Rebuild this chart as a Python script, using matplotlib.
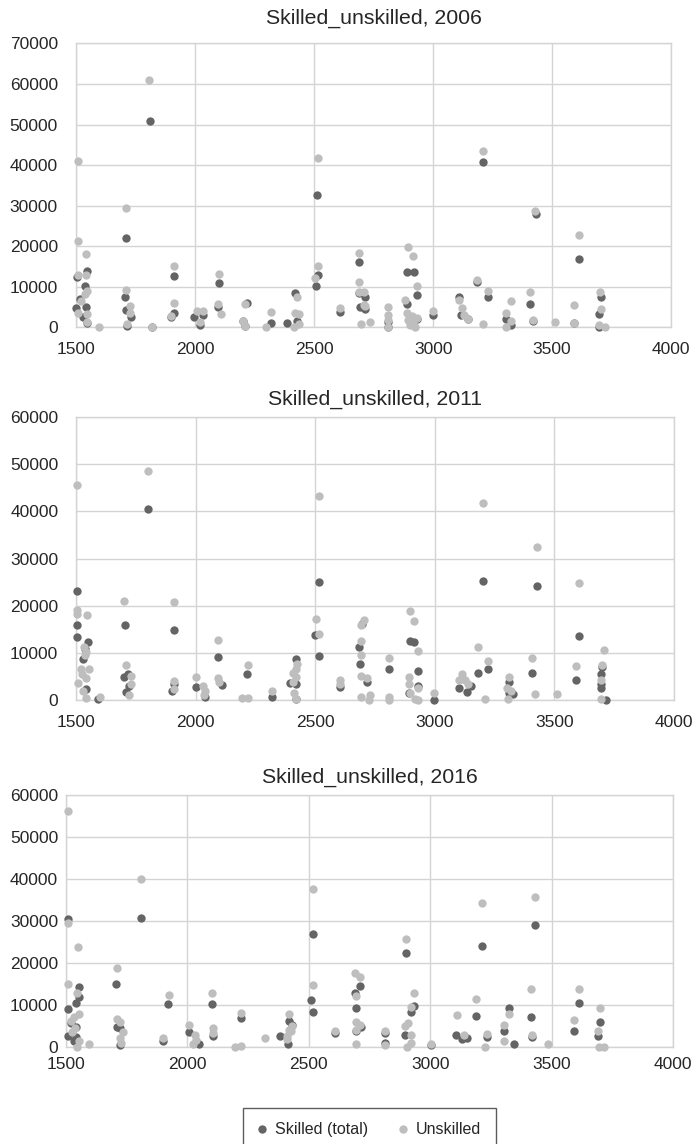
"""Skilled vs unskilled scatter, three census years (2006, 2011, 2016).

Three stacked panels sharing the same x range, one shared legend at the bottom.
"""
import matplotlib
matplotlib.use("Agg")
import matplotlib.pyplot as plt
from matplotlib.lines import Line2D

# --------------------------------------------------------------------------- #
# Data, (code, count) pairs
# --------------------------------------------------------------------------- #
years = [2006, 2011, 2016]
series_labels = ["Skilled (total)", "Unskilled"]

skilled_2006 = [
    (1505, 12300), (1547, 13900), (1538, 10250), (1542, 4900), (1500, 4750),
    (1517, 7000), (1530, 2600), (1545, 1000),
    (1710, 22000), (1707, 7550), (1710, 4200), (1730, 2600), (1715, 300),
    (1811, 50900), (1820, 0),
    (1913, 12640), (1911, 3400), (1900, 2400),
    (1997, 2450), (2032, 3000), (2020, 600),
    (2100, 11000), (2096, 4900),
    (2220, 6050), (2200, 1600), (2210, 300),
    (2320, 1100),
    (2420, 8400), (2385, 1000), (2430, 1500),
    (2511, 32700), (2518, 12800), (2508, 10200),
    (2609, 3800),
    (2690, 16200), (2690, 8400), (2714, 7500), (2693, 5000), (2716, 4400),
    (2812, 1400), (2812, 0),
    (2890, 13700), (2920, 13700), (2890, 5600), (2931, 8000), (2931, 2000),
    (3001, 3000),
    (3110, 7500), (3118, 2900), (3146, 2000),
    (3186, 11200), (3209, 40800), (3231, 7500),
    (3305, 2000), (3328, 600),
    (3408, 5700), (3433, 27900), (3420, 1600),
    (3611, 16900), (3590, 1100),
    (3704, 7500), (3695, 3300), (3695, 0),
]
unskilled_2006 = [
    (1507, 41000), (1507, 21300), (1542, 18000), (1507, 12900), (1542, 12900),
    (1547, 9000), (1538, 8100), (1521, 6500), (1510, 3600), (1547, 3300),
    (1547, 1400), (1598, 0),
    (1710, 29500), (1710, 9200), (1727, 5300), (1727, 3400), (1715, 800),
    (1807, 61000), (1820, 100),
    (1913, 15200), (1913, 5900), (1900, 2800),
    (2008, 4100), (2032, 4100), (2020, 1400),
    (2100, 13200), (2098, 5700), (2108, 3200),
    (2208, 5700), (2200, 1600), (2210, 300),
    (2300, 0), (2320, 3700),
    (2420, 3600), (2437, 3300), (2427, 7400), (2416, 0), (2437, 800),
    (2518, 41700), (2518, 15200), (2505, 12100),
    (2609, 4700),
    (2690, 18200), (2690, 11100), (2690, 8800), (2710, 8800), (2710, 5500),
    (2716, 5300), (2696, 800), (2735, 1400),
    (2812, 5000), (2812, 3000), (2812, 1700), (2812, 0),
    (2895, 19850), (2917, 17600), (2933, 10200), (2883, 6700), (2890, 3400),
    (2912, 2800), (2895, 1700), (2917, 1400), (2933, 2200), (2905, 600),
    (2925, 0),
    (3001, 4100),
    (3110, 6700), (3120, 4700), (3128, 2900), (3146, 2000),
    (3186, 11600), (3209, 43500), (3209, 900), (3231, 8900),
    (3326, 6500), (3305, 3400), (3328, 1600), (3305, 100),
    (3408, 8800), (3426, 28700), (3420, 1700),
    (3513, 1400),
    (3611, 22700), (3590, 5500), (3590, 1000),
    (3699, 8600), (3704, 4500), (3695, 600), (3720, 0),
]

skilled_2011 = [
    (1502, 23100), (1502, 16000), (1502, 13300), (1548, 12350), (1536, 10900),
    (1530, 8700), (1542, 2300), (1592, 300),
    (1704, 15900), (1715, 5500), (1700, 4900), (1720, 2900), (1710, 1700),
    (1800, 40400),
    (1910, 14800), (1910, 3400), (1900, 1900),
    (2001, 2700), (2040, 600),
    (2095, 9200), (2110, 3200),
    (2213, 5500),
    (2320, 600),
    (2420, 8800), (2420, 3400), (2395, 3700), (2420, 300),
    (2515, 25100), (2500, 13800), (2515, 9400),
    (2602, 2700),
    (2695, 16200), (2685, 11200), (2688, 7600), (2715, 3900),
    (2807, 6700),
    (2895, 12600), (2915, 12400), (2928, 6200), (2928, 2900), (2893, 1500),
    (2998, 100),
    (3103, 2600), (3135, 1700), (3150, 3000), (3183, 5800), (3225, 6600),
    (3204, 25200),
    (3310, 3900), (3310, 1500), (3328, 1400),
    (3407, 5800), (3428, 24100),
    (3605, 13500), (3590, 4200),
    (3700, 7000), (3695, 5600), (3695, 3500), (3695, 2500), (3715, 0),
]
unskilled_2011 = [
    (1502, 45500), (1502, 19200), (1502, 18200), (1543, 18100), (1532, 11300),
    (1542, 10200), (1538, 9500), (1555, 6600), (1520, 6600), (1522, 5600),
    (1508, 3700), (1542, 4600), (1530, 2000), (1542, 400), (1598, 700),
    (1700, 21100), (1710, 7400), (1727, 5100), (1727, 3500), (1720, 1100),
    (1800, 48600),
    (1910, 20700), (1910, 4000), (1907, 2300),
    (2000, 4800), (2030, 3000), (2040, 2000), (2035, 1100),
    (2095, 12700), (2095, 4600), (2098, 3900),
    (2220, 7400), (2195, 400), (2220, 400),
    (2320, 1900),
    (2405, 5800), (2420, 6700), (2425, 7700), (2420, 4900), (2405, 3900),
    (2410, 1500), (2420, 300),
    (2514, 43300), (2505, 17200), (2515, 14000),
    (2602, 4200), (2602, 3500),
    (2690, 16000), (2705, 17000), (2690, 12500), (2690, 9500), (2692, 5100),
    (2718, 4700), (2693, 700), (2730, 1100), (2725, 0),
    (2807, 9000), (2807, 700), (2807, 0),
    (2895, 18800), (2915, 16700), (2928, 10500), (2893, 4800), (2893, 3400),
    (2895, 1600), (2928, 2500), (2917, 300), (2932, 100),
    (2998, 1600),
    (3103, 4200), (3115, 5600), (3125, 4200), (3140, 3500), (3183, 11200),
    (3204, 41700), (3210, 300), (3225, 8300),
    (3310, 4800), (3302, 2500), (3320, 2000), (3305, 300),
    (3407, 9000), (3430, 32500), (3420, 1300),
    (3510, 1300),
    (3605, 24800), (3590, 7200),
    (3710, 10700), (3700, 7400), (3695, 4300), (3695, 300),
]

skilled_2016 = [
    (1511, 30500), (1511, 9000), (1553, 14300), (1553, 11900), (1542, 10500),
    (1520, 5800), (1542, 4900), (1511, 2700), (1542, 2500), (1535, 1400),
    (1707, 15000), (1710, 4900), (1725, 4700), (1725, 600),
    (1809, 30800),
    (1921, 10200), (1900, 1600),
    (2006, 3600), (2050, 800),
    (2103, 10200), (2105, 2700),
    (2220, 6900),
    (2420, 6200), (2380, 2800), (2430, 5300), (2415, 800),
    (2517, 26900), (2510, 11300), (2517, 8400),
    (2610, 3300),
    (2693, 9300), (2689, 13000), (2712, 14600), (2693, 3800), (2716, 4900),
    (2812, 3500), (2812, 1100),
    (2901, 22500), (2920, 8300), (2935, 9900), (2895, 2900),
    (3004, 500),
    (3106, 2900), (3130, 1900), (3150, 2100), (3188, 7400), (3211, 24100),
    (3232, 2500),
    (3322, 9300), (3305, 4000), (3345, 800),
    (3415, 7100), (3431, 29100), (3420, 2500),
    (3610, 10600), (3592, 4000),
    (3700, 6100), (3690, 2700),
]
unskilled_2016 = [
    (1511, 56300), (1511, 29500), (1511, 15000), (1549, 23800), (1546, 13000),
    (1553, 8000), (1535, 7200), (1520, 6300), (1540, 4600), (1525, 3600),
    (1553, 1400), (1546, 0), (1597, 900),
    (1710, 18900), (1710, 6800), (1725, 6000), (1736, 3600), (1725, 2200),
    (1727, 1000),
    (1809, 40000),
    (1925, 12400), (1900, 2100),
    (2006, 5300), (2030, 2900), (2038, 1800), (2025, 900),
    (2103, 12800), (2105, 4600), (2105, 3400),
    (2220, 8200), (2195, 0), (2220, 200),
    (2318, 2300),
    (2420, 8000), (2430, 5000), (2418, 4200), (2410, 2700), (2412, 1900),
    (2425, 4000),
    (2517, 37600), (2517, 14800),
    (2610, 4000),
    (2689, 17600), (2712, 16700), (2693, 12300), (2693, 6100), (2712, 5400),
    (2693, 4200), (2693, 700),
    (2812, 4000), (2812, 600),
    (2901, 25700), (2935, 12800), (2920, 9600), (2910, 5700), (2895, 5000),
    (2920, 2900), (2922, 1100), (2905, 0),
    (3004, 700),
    (3108, 7700), (3140, 2900), (3190, 11500), (3211, 34400), (3225, 0),
    (3232, 3200),
    (3305, 5200), (3325, 8000), (3305, 1500),
    (3415, 13800), (3431, 35700), (3420, 3000),
    (3485, 900),
    (3610, 13800), (3592, 6400),
    (3700, 9300), (3690, 3800), (3695, 0), (3715, 0),
]

x_ticks = [1500, 2000, 2500, 3000, 3500, 4000]
y_max = [70000, 60000, 60000]

# --------------------------------------------------------------------------- #
# Style
# --------------------------------------------------------------------------- #
DARK = "#646464"
LIGHT = "#bebebe"
GRID = "#d4d4d4"
TEXT = "#262626"

plt.rcParams["font.family"] = ["Liberation Sans", "DejaVu Sans"]

# axes rectangles in figure fractions, matched to the reference layout
PANELS = [
    dict(rect=[0.109, 0.714, 0.854, 0.248], pad=14, ypad=13, xpad=10.5),
    dict(rect=[0.1095, 0.388, 0.857, 0.2475], pad=8.5, ypad=13, xpad=10.5),
    dict(rect=[0.0943, 0.0845, 0.8717, 0.2206], pad=8.5, ypad=5.5, xpad=7),
]


def scatter_panel(ax, skilled, unskilled, ymax, spec):
    for pts, colour in ((skilled, DARK), (unskilled, LIGHT)):
        xs = [p[0] for p in pts]
        ys = [p[1] for p in pts]
        ax.scatter(xs, ys, s=36, color=colour, linewidths=0, clip_on=False,
                   zorder=3)
    ax.set_xlim(1500, 4000)
    ax.set_ylim(0, ymax)
    ax.set_xticks(x_ticks)
    ax.set_yticks(range(0, ymax + 1, 10000))
    ax.grid(True, color=GRID, linewidth=1.0)
    ax.set_axisbelow(True)
    for sp in ax.spines.values():
        sp.set_color(GRID)
        sp.set_linewidth(1.0)
    ax.tick_params(length=0, labelsize=12.5, colors=TEXT)
    ax.tick_params(axis="y", pad=spec["ypad"])
    ax.tick_params(axis="x", pad=spec["xpad"])


fig = plt.figure(figsize=(6.97, 11.44), dpi=100)
data = [(skilled_2006, unskilled_2006), (skilled_2011, unskilled_2011),
        (skilled_2016, unskilled_2016)]
for (sk, un), year, ymax, spec in zip(data, years, y_max, PANELS):
    ax = fig.add_axes(spec["rect"])
    scatter_panel(ax, sk, un, ymax, spec)
    ax.set_title(f"Skilled_unskilled, {year}", fontsize=15.3, color=TEXT,
                 pad=spec["pad"])

handles = [Line2D([], [], marker="o", linestyle="none", markersize=6,
                  markerfacecolor=c, markeredgewidth=0)
           for c in (DARK, LIGHT)]
leg = fig.legend(handles, series_labels, loc="upper center",
                 bbox_to_anchor=(0.530, 0.0315), ncol=2, frameon=True,
                 fancybox=False, fontsize=11.5, handlelength=0.6,
                 handletextpad=0.5, columnspacing=1.9, borderpad=0.9,
                 borderaxespad=0)
leg.get_frame().set_edgecolor("#333333")
leg.get_frame().set_linewidth(1.0)
for t in leg.get_texts():
    t.set_color(TEXT)

fig.savefig("out.png", dpi=100)
